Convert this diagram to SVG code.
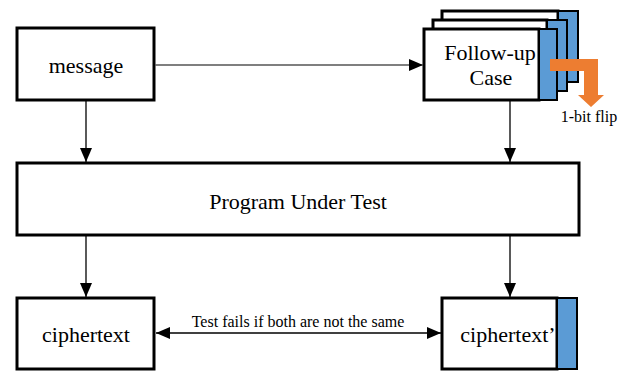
<svg xmlns="http://www.w3.org/2000/svg" width="630" height="371" viewBox="0 0 630 371">
<style>
.box{fill:#fff;stroke:#000;stroke-width:3}
.blue{fill:#5b9bd5;stroke:#000;stroke-width:2}
text{font-family:'Liberation Serif','Times New Roman',serif;fill:#000;text-anchor:middle}
.t{font-size:22px}
.s{font-size:16px}
.ln{stroke:#000;stroke-width:1.3;fill:none}
</style>
<defs>
<marker id="ah" viewBox="0 0 14 12" refX="14" refY="6" markerWidth="14" markerHeight="12" markerUnits="userSpaceOnUse" orient="auto-start-reverse">
<path d="M0,0 L14,6 L0,12 Z" fill="#000"/>
</marker>
</defs>
<g id="message">
<rect class="box" x="17" y="28" width="137" height="72"/>
<text class="t" x="86" y="73">message</text>
</g>
<g id="followup">
<rect class="box" x="442" y="11" width="116" height="71"/>
<rect class="blue" x="558" y="11" width="20" height="71"/>
<rect class="box" x="433" y="20" width="114" height="71"/>
<rect class="blue" x="547" y="20" width="20" height="71"/>
<rect class="box" x="424" y="29" width="115" height="71"/>
<rect class="blue" x="539" y="29" width="18" height="71"/>
<text class="t" x="490" y="60" font-size="21.5">Follow-up</text>
<text class="t" x="491" y="85">Case</text>
<path d="M550,59 H598 V95 H604 L591,107 L578,95 H584 V71 H550 Z" fill="#ed7d31"/>
<text class="s" x="589" y="122">1-bit flip</text>
</g>
<g id="program">
<rect class="box" x="17" y="163" width="562" height="72"/>
<text class="t" x="298" y="209">Program Under Test</text>
</g>
<g id="ciphertext">
<rect class="box" x="17" y="298" width="137" height="71"/>
<text class="t" x="86" y="342">ciphertext</text>
</g>
<g id="ciphertext2">
<rect class="box" x="442" y="298" width="115" height="71"/>
<rect class="blue" x="557" y="298" width="20" height="71"/>
<text class="t" x="508" y="342" font-size="21.5">ciphertext’</text>
</g>
<g id="connectors">
<line class="ln" x1="155" y1="65" x2="423" y2="65" marker-end="url(#ah)" style="stroke:#555"/>
<line class="ln" x1="86" y1="100" x2="86" y2="162" marker-end="url(#ah)"/>
<line class="ln" x1="510" y1="100" x2="510" y2="162" marker-end="url(#ah)"/>
<line class="ln" x1="86" y1="235" x2="86" y2="297" marker-end="url(#ah)"/>
<line class="ln" x1="510" y1="235" x2="510" y2="297" marker-end="url(#ah)"/>
<line class="ln" x1="156" y1="333" x2="441" y2="333" marker-start="url(#ah)" marker-end="url(#ah)"/>
<text class="s" x="298" y="327">Test fails if both are not the same</text>
</g>
</svg>
